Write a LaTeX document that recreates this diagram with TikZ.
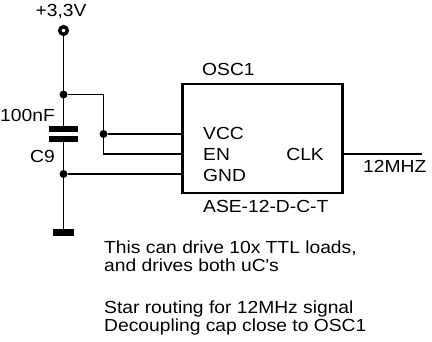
\documentclass[tikz,border=0pt]{standalone}
\usepackage{fontspec}
\setmainfont{Liberation Sans}[FakeStretch=1.1]
\usepackage{tikz}

\begin{document}
\begin{tikzpicture}[x=1pt,y=-1pt,
  font=\fontsize{17.5}{18.4}\selectfont,
  dot/.style={fill=black,circle,inner sep=0pt,minimum size=8pt},
  wire/.style={line width=1.2pt},
  lbl/.style={inner sep=0pt}]
	\useasboundingbox (0,0) rectangle (432,342);
	% supply terminal
	\node [draw,circle,line width=3.5pt,inner sep=0pt,minimum size=7.5pt] (term) at (63.5,30.5) {};
	\node [lbl,anchor=base] (supply) at (61,17) {+3,3V};
	% capacitor C9
	\fill (49,126) rectangle (78,132);
	\fill (49,136.5) rectangle (78,142.5);
	\coordinate (captop) at (63.5,126);
	\coordinate (capbot) at (63.5,142.5);
	\node [lbl,anchor=base east] (capval) at (55,121.5) {100nF};
	\node [lbl,anchor=base east] (capname) at (55,162.5) {C9};
	% ground
	\fill (53,229) rectangle (74,236);
	\coordinate (gnd) at (63.5,229);
	% junctions
	\node [dot] (jtop) at (63.5,94.5) {};
	\node [dot] (jvcc) at (103.5,134) {};
	\node [dot] (jgnd) at (63.5,174) {};
	\coordinate (knee) at (103.5,154);
	% oscillator
	\node [draw,line width=2.2pt,inner sep=0pt,minimum width=160pt,minimum height=108.7pt] (osc) at (262.5,138.7) {};
	\coordinate (pvcc) at (182.5,134);
	\coordinate (pen) at (182.5,154);
	\coordinate (pgnd) at (182.5,174);
	\coordinate (pclk) at (342.5,154);
	\coordinate (clkend) at (422,154);
	\node [lbl,anchor=base west] (oscname) at (202,76) {OSC1};
	\node [lbl,anchor=base west] (oscpart) at (203,212.5) {ASE-12-D-C-T};
	\node [lbl,anchor=base west] (lvcc) at (203,140) {VCC};
	\node [lbl,anchor=base west] (len) at (203,160.7) {EN};
	\node [lbl,anchor=base west] (lgnd) at (203,181.5) {GND};
	\node [lbl,anchor=base east] (lclk) at (324,160.5) {CLK};
	\node [lbl,anchor=base west] (net) at (363,173) {12MHZ};
	% wires
	\draw [wire] (term) -- (captop);
	\draw [wire] (capbot) -- (gnd);
	\draw [wire] (jtop) -| (knee) -- (pen);
	\draw [wire] (jvcc) -- (pvcc);
	\draw [wire] (jgnd) -- (pgnd);
	\draw [wire] (pclk) -- (clkend);
	% notes
	\node [lbl,anchor=base west] (note1) at (104,253.3) {This can drive 10x TTL loads,};
	\node [lbl,anchor=base west] (note2) at (104,271.7) {and drives both uC\textquotesingle s};
	\node [lbl,anchor=base west] (note3) at (104,314) {Star routing for 12MHz signal};
	\node [lbl,anchor=base west] (note4) at (104,332) {Decoupling cap close to OSC1};
\end{tikzpicture}
\end{document}
